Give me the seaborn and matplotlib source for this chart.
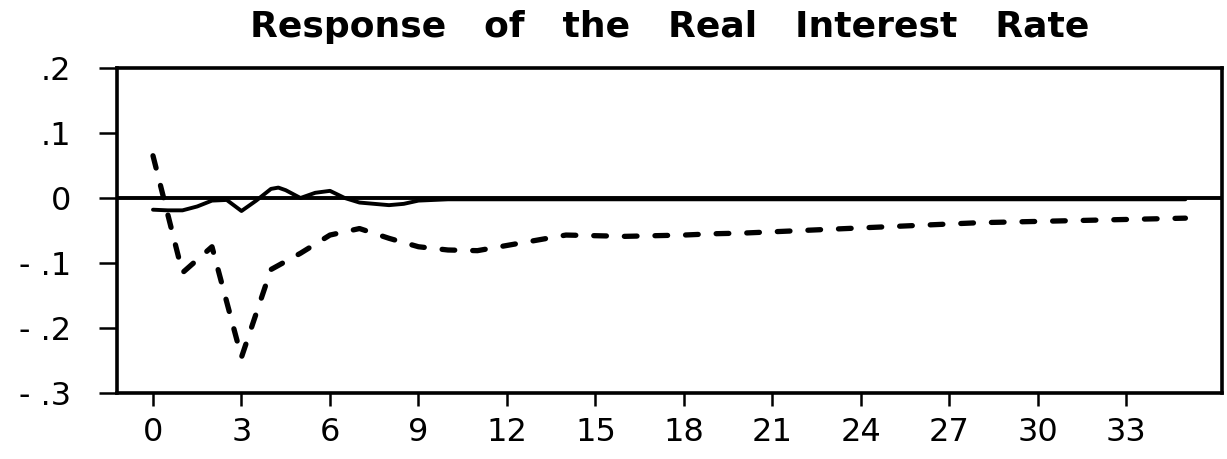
import matplotlib
matplotlib.use("Agg")
import matplotlib.pyplot as plt
import seaborn as sns
import pandas as pd

# Impulse responses
horizon_solid = [0, 0.5, 1, 1.5, 2, 2.5, 3, 3.5, 4, 4.25, 4.5, 5, 5.5, 6, 6.5, 7, 7.5, 8, 8.5, 9, 10, 12, 15, 20, 25, 30, 35]
response_solid = [-0.018, -0.019, -0.019, -0.013, -0.004, -0.003, -0.020, -0.004, 0.014, 0.016, 0.012,
                  0.000, 0.008, 0.011, 0.000, -0.007, -0.009, -0.011, -0.009, -0.004, -0.002,
                  -0.002, -0.002, -0.002, -0.002, -0.002, -0.002]

horizon_dashed = list(range(0, 36))
response_dashed = [0.065, -0.115, -0.075, -0.245, -0.110, -0.085, -0.057, -0.047, -0.062, -0.075,
                   -0.080, -0.081, -0.073, -0.065, -0.057, -0.058, -0.059, -0.058, -0.057, -0.055,
                   -0.054, -0.052, -0.050, -0.048, -0.046, -0.044, -0.042, -0.040, -0.038, -0.037,
                   -0.036, -0.035, -0.034, -0.033, -0.032, -0.031]

x_ticks = list(range(0, 34, 3))
y_ticks = [0.2, 0.1, 0.0, -0.1, -0.2, -0.3]
y_tick_labels = [".2", ".1", "0", "- .1", "- .2", "- .3"]

solid_df = pd.DataFrame({"t": horizon_solid, "r": response_solid})
dashed_df = pd.DataFrame({"t": horizon_dashed, "r": response_dashed})

sns.set_style("ticks")
plt.rcParams["font.family"] = ["DejaVu Sans"]

fig = plt.figure(figsize=(12.27, 4.59), dpi=100)
ax = fig.add_axes([117 / 1227, 1 - 393 / 459, (1222 - 117) / 1227, (393 - 68) / 459])

ax.axhline(0, color="black", linewidth=2.8, zorder=2)
sns.lineplot(data=solid_df, x="t", y="r", ax=ax, color="black", linewidth=2.8, zorder=3)
sns.lineplot(data=dashed_df, x="t", y="r", ax=ax, color="black", linewidth=3.8, zorder=3)
dash_line = ax.lines[-1]
dash_line.set_dashes([2.4, 3.4])
dash_line.set_dash_capstyle("round")
ax.lines[-2].set_solid_joinstyle("round")

ax.set_xlim(-1.22, 36.24)
ax.set_ylim(-0.3, 0.2)
ax.set_xticks(x_ticks)
ax.set_xticklabels([str(v) for v in x_ticks])
ax.set_yticks(y_ticks)
ax.set_yticklabels(y_tick_labels)
ax.set_xlabel("")
ax.set_ylabel("")

for side in ["left", "right", "top", "bottom"]:
    ax.spines[side].set_visible(True)
    ax.spines[side].set_linewidth(2.6)
    ax.spines[side].set_color("black")

ax.tick_params(axis="x", direction="out", length=9.5, width=1.8, pad=8, labelsize=23, colors="black")
ax.tick_params(axis="y", direction="out", length=13, width=1.8, pad=20, labelsize=23, colors="black")

ax.set_title("Response   of   the   Real   Interest   Rate", fontsize=26, fontweight="bold",
             pad=22, color="black")

fig.savefig("out.png", dpi=100)
